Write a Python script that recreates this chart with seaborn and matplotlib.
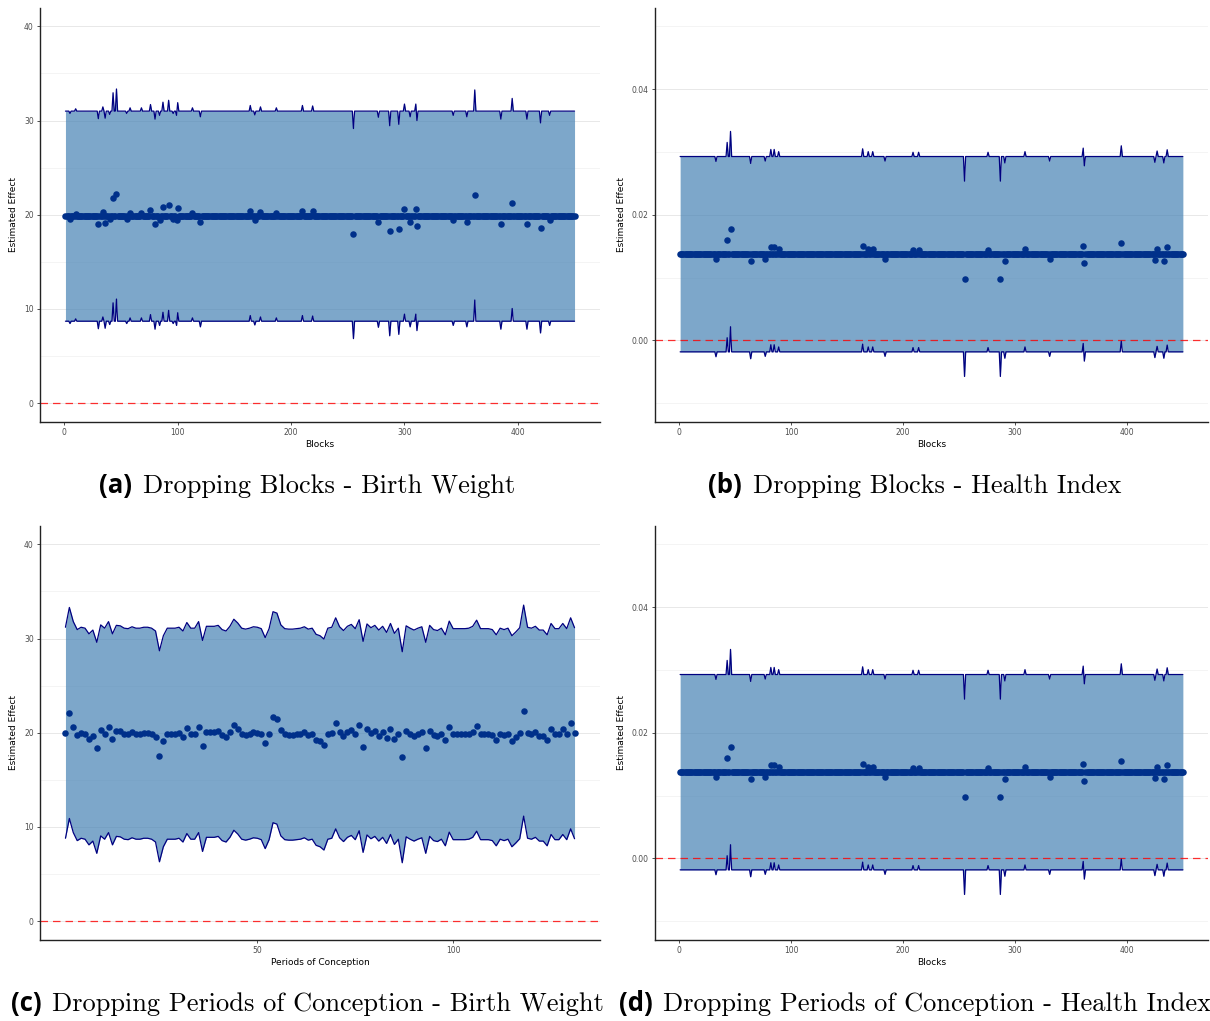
import numpy as np
import pandas as pd
import seaborn as sns
import matplotlib.pyplot as plt
from matplotlib.ticker import FormatStrFormatter

# x positions
blocks = list(range(1, 451))
periods = list(range(1, 132))

# birth weight, dropping blocks: most estimates sit on the baseline, a few stray
bw_block_base = 19.85
bw_block_outliers = {
    5: 19.6, 10: 20.1, 30: 19.05, 34: 20.3, 36: 19.1, 40: 19.5, 43: 21.8,
    46: 22.2, 55: 19.6, 58: 20.2, 68: 20.2, 76: 20.55, 80: 19.0, 84: 19.4,
    87: 20.8, 92: 21.0, 96: 19.6, 99: 19.4, 100: 20.75, 113: 20.2,
    120: 19.25, 164: 20.45, 168: 19.45, 173: 20.3, 187: 20.2, 210: 20.45,
    219: 20.4, 255: 18.0, 277: 19.2, 287: 18.3, 295: 18.45, 300: 20.6,
    305: 19.25, 310: 20.6, 311: 18.85, 343: 19.4, 355: 19.25, 362: 22.1,
    385: 19.0, 395: 21.2, 408: 19.0, 420: 18.6, 428: 19.4,
}
bw_block_halfwidth = 11.15

# birth weight, dropping periods of conception
bw_period_est = [
    20.0, 22.1, 20.6, 19.75, 20.0, 19.9, 19.3, 19.7, 18.4, 20.25,
    19.9, 20.6, 19.3, 20.2, 20.15, 19.9, 19.85, 20.05, 19.9, 19.9,
    20.0, 20.0, 19.9, 19.6, 17.5, 19.1, 19.9, 19.9, 19.9, 20.0,
    19.6, 20.5, 19.9, 19.9, 20.6, 18.6, 20.1, 20.1, 20.1, 20.2,
    19.75, 19.6, 20.1, 20.85, 20.45, 19.9,
    19.8, 19.9, 20.05, 20.0, 19.85, 18.9, 19.85, 21.65, 21.5, 20.25,
    19.85, 19.8, 19.8, 19.85, 19.9, 20.05, 19.8, 19.9, 19.25, 19.1,
    18.75, 19.9, 20.0, 21.0, 20.05, 19.65, 20.1, 20.3, 19.85, 20.8,
    18.5, 20.35, 19.95, 20.2, 19.7, 20.1, 19.45, 20.4, 19.35, 19.9,
    17.4, 20.15, 19.9, 19.7, 19.9, 20.05, 18.4, 20.2,
    19.75, 19.65, 19.9, 19.2, 20.65, 19.85, 19.85, 19.85, 19.85, 19.9,
    20.1, 20.75, 19.85, 19.85, 19.85, 19.75, 19.2, 19.9, 19.75, 19.9,
    19.1, 19.5, 19.95, 22.35, 20.0, 19.9, 20.1, 19.7, 19.7, 19.2,
    20.4, 19.85, 19.85, 20.4, 19.85, 21.0, 19.95,
]
bw_period_halfwidth = 11.2

# health index, dropping blocks
hi_block_base = 0.01372
hi_block_outliers = {
    33: 0.01294, 43: 0.01597, 46: 0.01772, 64: 0.01262, 77: 0.0130,
    82: 0.01485, 85: 0.01485, 89: 0.0145, 164: 0.01495, 169: 0.0145,
    173: 0.0145, 184: 0.0130, 209: 0.0144, 214: 0.0144, 255: 0.0098,
    276: 0.0144, 287: 0.0098, 291: 0.0127, 309: 0.0145, 331: 0.0130,
    361: 0.01506, 362: 0.01224, 395: 0.01543, 425: 0.0128, 427: 0.0146,
    433: 0.0127, 436: 0.0148,
}
hi_block_halfwidth = 0.01555


def block_estimates(base, outliers):
    est = pd.Series(base, index=blocks, dtype=float)
    for b, v in outliers.items():
        est[b] = v
    return est.values


def make_frame(x, est, hw):
    df = pd.DataFrame({'x': x, 'est': est})
    df['lower'] = df['est'] - hw
    df['upper'] = df['est'] + hw
    return df


df_a = make_frame(blocks, block_estimates(bw_block_base, bw_block_outliers), bw_block_halfwidth)
df_b = make_frame(blocks, block_estimates(hi_block_base, hi_block_outliers), hi_block_halfwidth)
df_c = make_frame(periods, bw_period_est, bw_period_halfwidth)
df_d = df_b.copy()

sns.set_theme(style='white')
plt.rcParams['font.family'] = ['DejaVu Sans']

fig = plt.figure(figsize=(12.1, 10.21), dpi=100)
W, H = 1210, 1021


def add_ax(left, top, right, bottom):
    return fig.add_axes([left / W, 1 - bottom / H, (right - left) / W, (bottom - top) / H])


def draw_panel(ax, df, xlabel, ylim, major, minor, xticks, fmt=None):
    ax.fill_between(df['x'], df['lower'], df['upper'], color='steelblue',
                    alpha=0.7, lw=0, zorder=1)
    ax.axhline(0, color='red', lw=0.9, alpha=0.8, ls=(0, (6, 4)), zorder=2)
    sns.lineplot(data=df, x='x', y='upper', color='navy', lw=0.9, ax=ax, zorder=3)
    sns.lineplot(data=df, x='x', y='lower', color='navy', lw=0.9, ax=ax, zorder=3)
    sns.scatterplot(data=df, x='x', y='est', color='#00308a', s=22,
                    linewidth=0, ax=ax, zorder=4)
    lo, hi = df['x'].min(), df['x'].max()
    pad = 0.05 * (hi - lo)
    ax.set_xlim(lo - pad, hi + pad)
    ax.set_ylim(*ylim)
    ax.set_yticks(major)
    ax.set_yticks(minor, minor=True)
    ax.set_xticks(xticks)
    if fmt:
        ax.yaxis.set_major_formatter(FormatStrFormatter(fmt))
    ax.grid(axis='y', which='major', color='#e8e8e8', lw=0.7, zorder=0)
    ax.grid(axis='y', which='minor', color='#f2f2f2', lw=0.6, zorder=0)
    ax.grid(axis='x', visible=False)
    ax.set_axisbelow(True)
    ax.tick_params(which='major', length=2.5, width=0.6, color='#333333',
                   labelsize=5.5, labelcolor='#4d4d4d', pad=2, left=True, bottom=True)
    ax.tick_params(which='minor', length=0)
    sns.despine(ax=ax)
    for s in ('left', 'bottom'):
        ax.spines[s].set_color('#222222')
        ax.spines[s].set_linewidth(1.0)
    ax.set_xlabel(xlabel, fontsize=6.5, color='black', labelpad=2)
    ax.set_ylabel('Estimated Effect', fontsize=6.5, color='black', labelpad=4)


ax_a = add_ax(40, 7.5, 600, 422)
ax_b = add_ax(655, 7.5, 1208, 422)
ax_c = add_ax(40, 525.5, 600, 940)
ax_d = add_ax(655, 525.5, 1208, 940)

draw_panel(ax_a, df_a, 'Blocks', (-2, 42), [0, 10, 20, 30, 40], [5, 15, 25, 35],
           [0, 100, 200, 300, 400])
draw_panel(ax_b, df_b, 'Blocks', (-0.013, 0.053), [0.0, 0.02, 0.04],
           [-0.01, 0.01, 0.03, 0.05], [0, 100, 200, 300, 400], fmt='%.2f')
draw_panel(ax_c, df_c, 'Periods of Conception', (-2, 42), [0, 10, 20, 30, 40],
           [5, 15, 25, 35], [50, 100])
draw_panel(ax_d, df_d, 'Blocks', (-0.013, 0.053), [0.0, 0.02, 0.04],
           [-0.01, 0.01, 0.03, 0.05], [0, 100, 200, 300, 400], fmt='%.2f')

# sub-captions: bold sans tag + serif title
captions = [
    ('(a)', 'Dropping Blocks - Birth Weight', 132, 143, 493),
    ('(b)', 'Dropping Blocks - Health Index', 742, 753, 493),
    ('(c)', 'Dropping Periods of Conception - Birth Weight', 42, 52, 1011),
    ('(d)', 'Dropping Periods of Conception - Health Index', 653, 663, 1011),
]
for tag, title, tag_right, title_left, base in captions:
    fig.text(tag_right / W, 1 - base / H, tag, ha='right', va='baseline',
             fontsize=18.5, fontweight='bold', color='black',
             family=['Open Sans', 'DejaVu Sans'])
    fig.text(title_left / W, 1 - base / H, title, ha='left', va='baseline',
             fontsize=19, color='black', family=['cmr10', 'DejaVu Serif'])

fig.savefig('out.png', dpi=100)
